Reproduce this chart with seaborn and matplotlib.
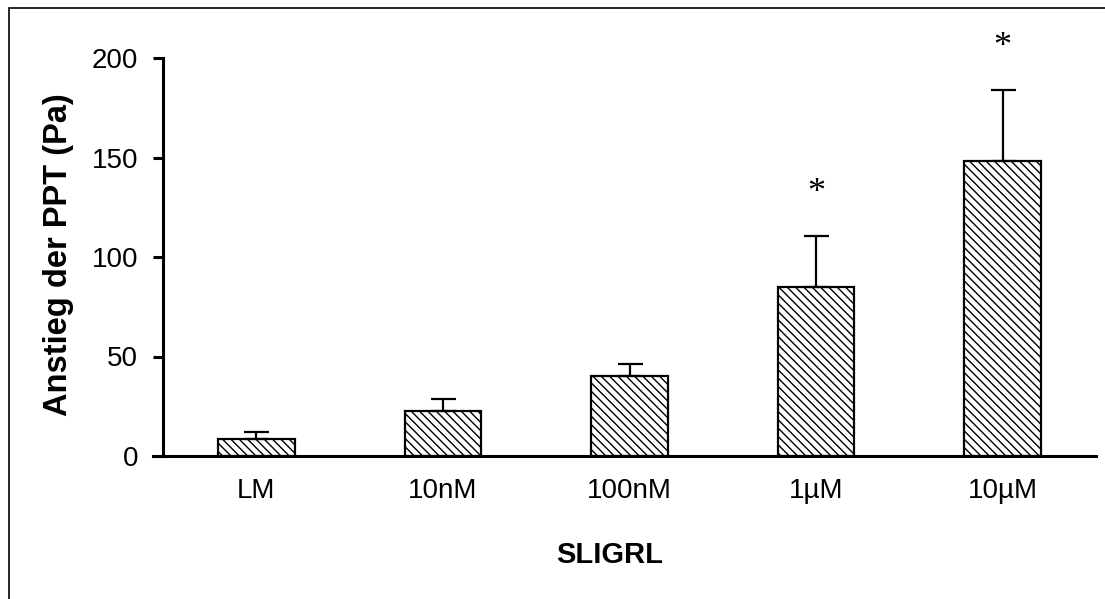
import matplotlib
matplotlib.use("Agg")
import matplotlib.pyplot as plt
import seaborn as sns
import pandas as pd
from matplotlib.patches import Rectangle

categories = ["LM", "10nM", "100nM", "1µM", "10µM"]
values = [8.5, 22.5, 40, 85, 148]
errors = [3.5, 6, 6, 25.5, 36]
significant = ["", "", "", "*", "*"]
yticks = [0, 50, 100, 150, 200]

sns.set_theme(style="white")
plt.rcParams["font.family"] = ["Liberation Sans", "DejaVu Sans"]
plt.rcParams["hatch.linewidth"] = 1.0
plt.rcParams["hatch.color"] = "#222222"

df = pd.DataFrame({"cat": categories, "val": values})

fig = plt.figure(figsize=(11.05, 5.99), dpi=100)
ax = fig.add_axes([163 / 1105, 1 - 456 / 599, (1096 - 163) / 1105, (456 - 58) / 599])

sns.barplot(data=df, x="cat", y="val", color="white", edgecolor="black",
            linewidth=1.6, width=0.41, ax=ax, errorbar=None, saturation=1)
for p in ax.patches:
    p.set_hatch("\\\\\\\\")
    p.set_facecolor("white")

xs = list(range(len(categories)))
ax.errorbar(xs, values, yerr=[[0] * len(errors), errors], fmt="none",
            ecolor="black", elinewidth=1.6, capsize=9, capthick=1.6, zorder=3)

for x, v, e, s in zip(xs, values, errors, significant):
    if s:
        ax.text(x, v + e + 13, s, ha="center", va="bottom", fontsize=26,
                family=["Liberation Serif", "DejaVu Serif"], color="black")

ax.set_xlim(-0.5, 4.5)
ax.set_ylim(0, 200)
ax.set_yticks(yticks)
ax.set_yticklabels([str(t) for t in yticks])

for side in ["top", "right"]:
    ax.spines[side].set_visible(False)
for side in ["left", "bottom"]:
    ax.spines[side].set_linewidth(2.2)
    ax.spines[side].set_color("black")
ax.spines["bottom"].set_bounds(-0.555, 4.5)

ax.tick_params(axis="y", which="major", left=True, length=7, width=2.2,
               direction="out", labelsize=20, pad=11, colors="black")
ax.tick_params(axis="x", which="major", bottom=False, length=0,
               labelsize=20, pad=16, colors="black")

ax.set_xlabel("SLIGRL", fontsize=21, fontweight="bold", labelpad=24, color="black")
ax.xaxis.set_label_coords((610 - 163) / (1096 - 163), -(553 - 456) / (456 - 58) + 0.03)
ax.set_ylabel("Anstieg der PPT (Pa)", fontsize=23.5, fontweight="bold", labelpad=14, color="black")
ax.yaxis.set_label_coords(-(163 - 74) / (1096 - 163), 0.5 + 0.005)

fig.patches.append(Rectangle((9 / 1105, -0.2), 1.2, 1 - 8 / 599 + 0.2,
                             transform=fig.transFigure, fill=False,
                             edgecolor="black", linewidth=1.2, zorder=10))

fig.savefig("out.png", dpi=100, facecolor="white")
